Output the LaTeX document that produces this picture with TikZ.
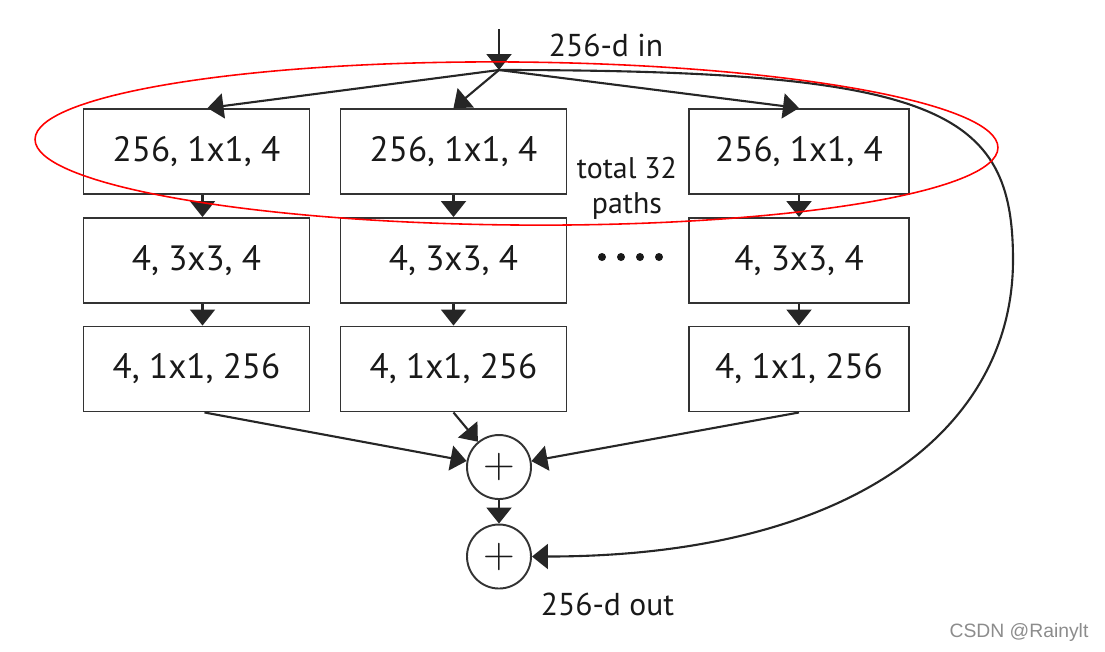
\documentclass[tikz,border=0pt]{standalone}
\usepackage{fontspec}
\setmainfont{PT Sans}
\newfontfamily\wmfont{Liberation Sans}
\usetikzlibrary{arrows.meta}

\begin{document}
\begin{tikzpicture}[scale=1,
  >={Triangle[width=2.5mm,length=1.6mm]},
  blk/.style={draw=black!80,line width=0.55pt,minimum width=2.26cm,minimum height=0.85cm,inner sep=0pt,text=black!90,font=\fontsize{10}{12}\selectfont},
  sum/.style={draw=black!80,circle,line width=0.55pt,minimum size=0.64cm,inner sep=0pt,text=black!90,font=\fontsize{11.5}{12}\selectfont},
  lbl/.style={text=black!90,font=\fontsize{9}{11}\selectfont},
  conn/.style={->,line width=0.6pt,draw=black!85}]
\useasboundingbox (0,0) rectangle (11.05,-6.51);

\node[blk] (a1) at (1.965,-1.515) {256, 1x1, 4};
\node[blk] (a2) at (4.535,-1.515) {256, 1x1, 4};
\node[blk,minimum width=2.2cm] (a3) at (7.99,-1.515) {256, 1x1, 4};
\node[blk] (b1) at (1.965,-2.605) {4, 3x3, 4};
\node[blk] (b2) at (4.535,-2.605) {4, 3x3, 4};
\node[blk,minimum width=2.2cm] (b3) at (7.99,-2.605) {4, 3x3, 4};
\node[blk] (c1) at (1.965,-3.69) {4, 1x1, 256};
\node[blk] (c2) at (4.535,-3.69) {4, 1x1, 256};
\node[blk,minimum width=2.2cm] (c3) at (7.99,-3.69) {4, 1x1, 256};

\node[sum] (s1) at (4.99,-4.67) {$+$};
\node[sum] (s2) at (4.99,-5.565) {$+$};

\coordinate (top) at (4.99,-0.29);
\coordinate (split) at (4.99,-0.70);

\node[lbl] (din) at (6.06,-0.45) {256-d in};
\node[lbl] (dout) at (6.075,-6.04) {256-d out};
\node[lbl,align=center,font=\fontsize{8.5}{10}\selectfont] (tot) at (6.27,-1.88) {total 32\\paths};
\foreach \x in {6.02,6.21,6.40,6.59}
  \fill[black!90] (\x,-2.57) circle (0.04);

\draw[conn] (top) -- (split);
\draw[conn] (split) -- ([xshift=1.1mm]a1.north);
\draw[conn] (split) -- (a2.north);
\draw[conn] (split) -- (a3.north);
\draw[conn] ([xshift=0.6mm]a1.south) -- ([xshift=0.6mm]b1.north);
\draw[conn] (a2.south) -- (b2.north);
\draw[conn] (a3.south) -- (b3.north);
\draw[conn] ([xshift=0.6mm]b1.south) -- ([xshift=0.6mm]c1.north);
\draw[conn] (b2.south) -- (c2.north);
\draw[conn] (b3.south) -- (c3.north);
\draw[conn] ([xshift=0.8mm]c1.south) -- (s1);
\draw[conn] (c2.south) -- (s1);
\draw[conn] (c3.south) -- (s1);
\draw[conn] (s1) -- (s2);
\draw[conn] (split) .. controls (9.4,-0.70) and (10.13,-1.1) .. (10.13,-2.6)
  .. controls (10.13,-4.3) and (8.5,-5.565) .. (s2.east);

\draw[red,line width=0.45pt,rotate around={-0.5:(5.165,-1.435)}] (5.165,-1.435) ellipse [x radius=4.815,y radius=0.815];

\node[font=\wmfont\fontsize{5.5}{6}\selectfont,text=black!45] (wm) at (10.19,-6.32) {CSDN @Rainylt};
\end{tikzpicture}
\end{document}
